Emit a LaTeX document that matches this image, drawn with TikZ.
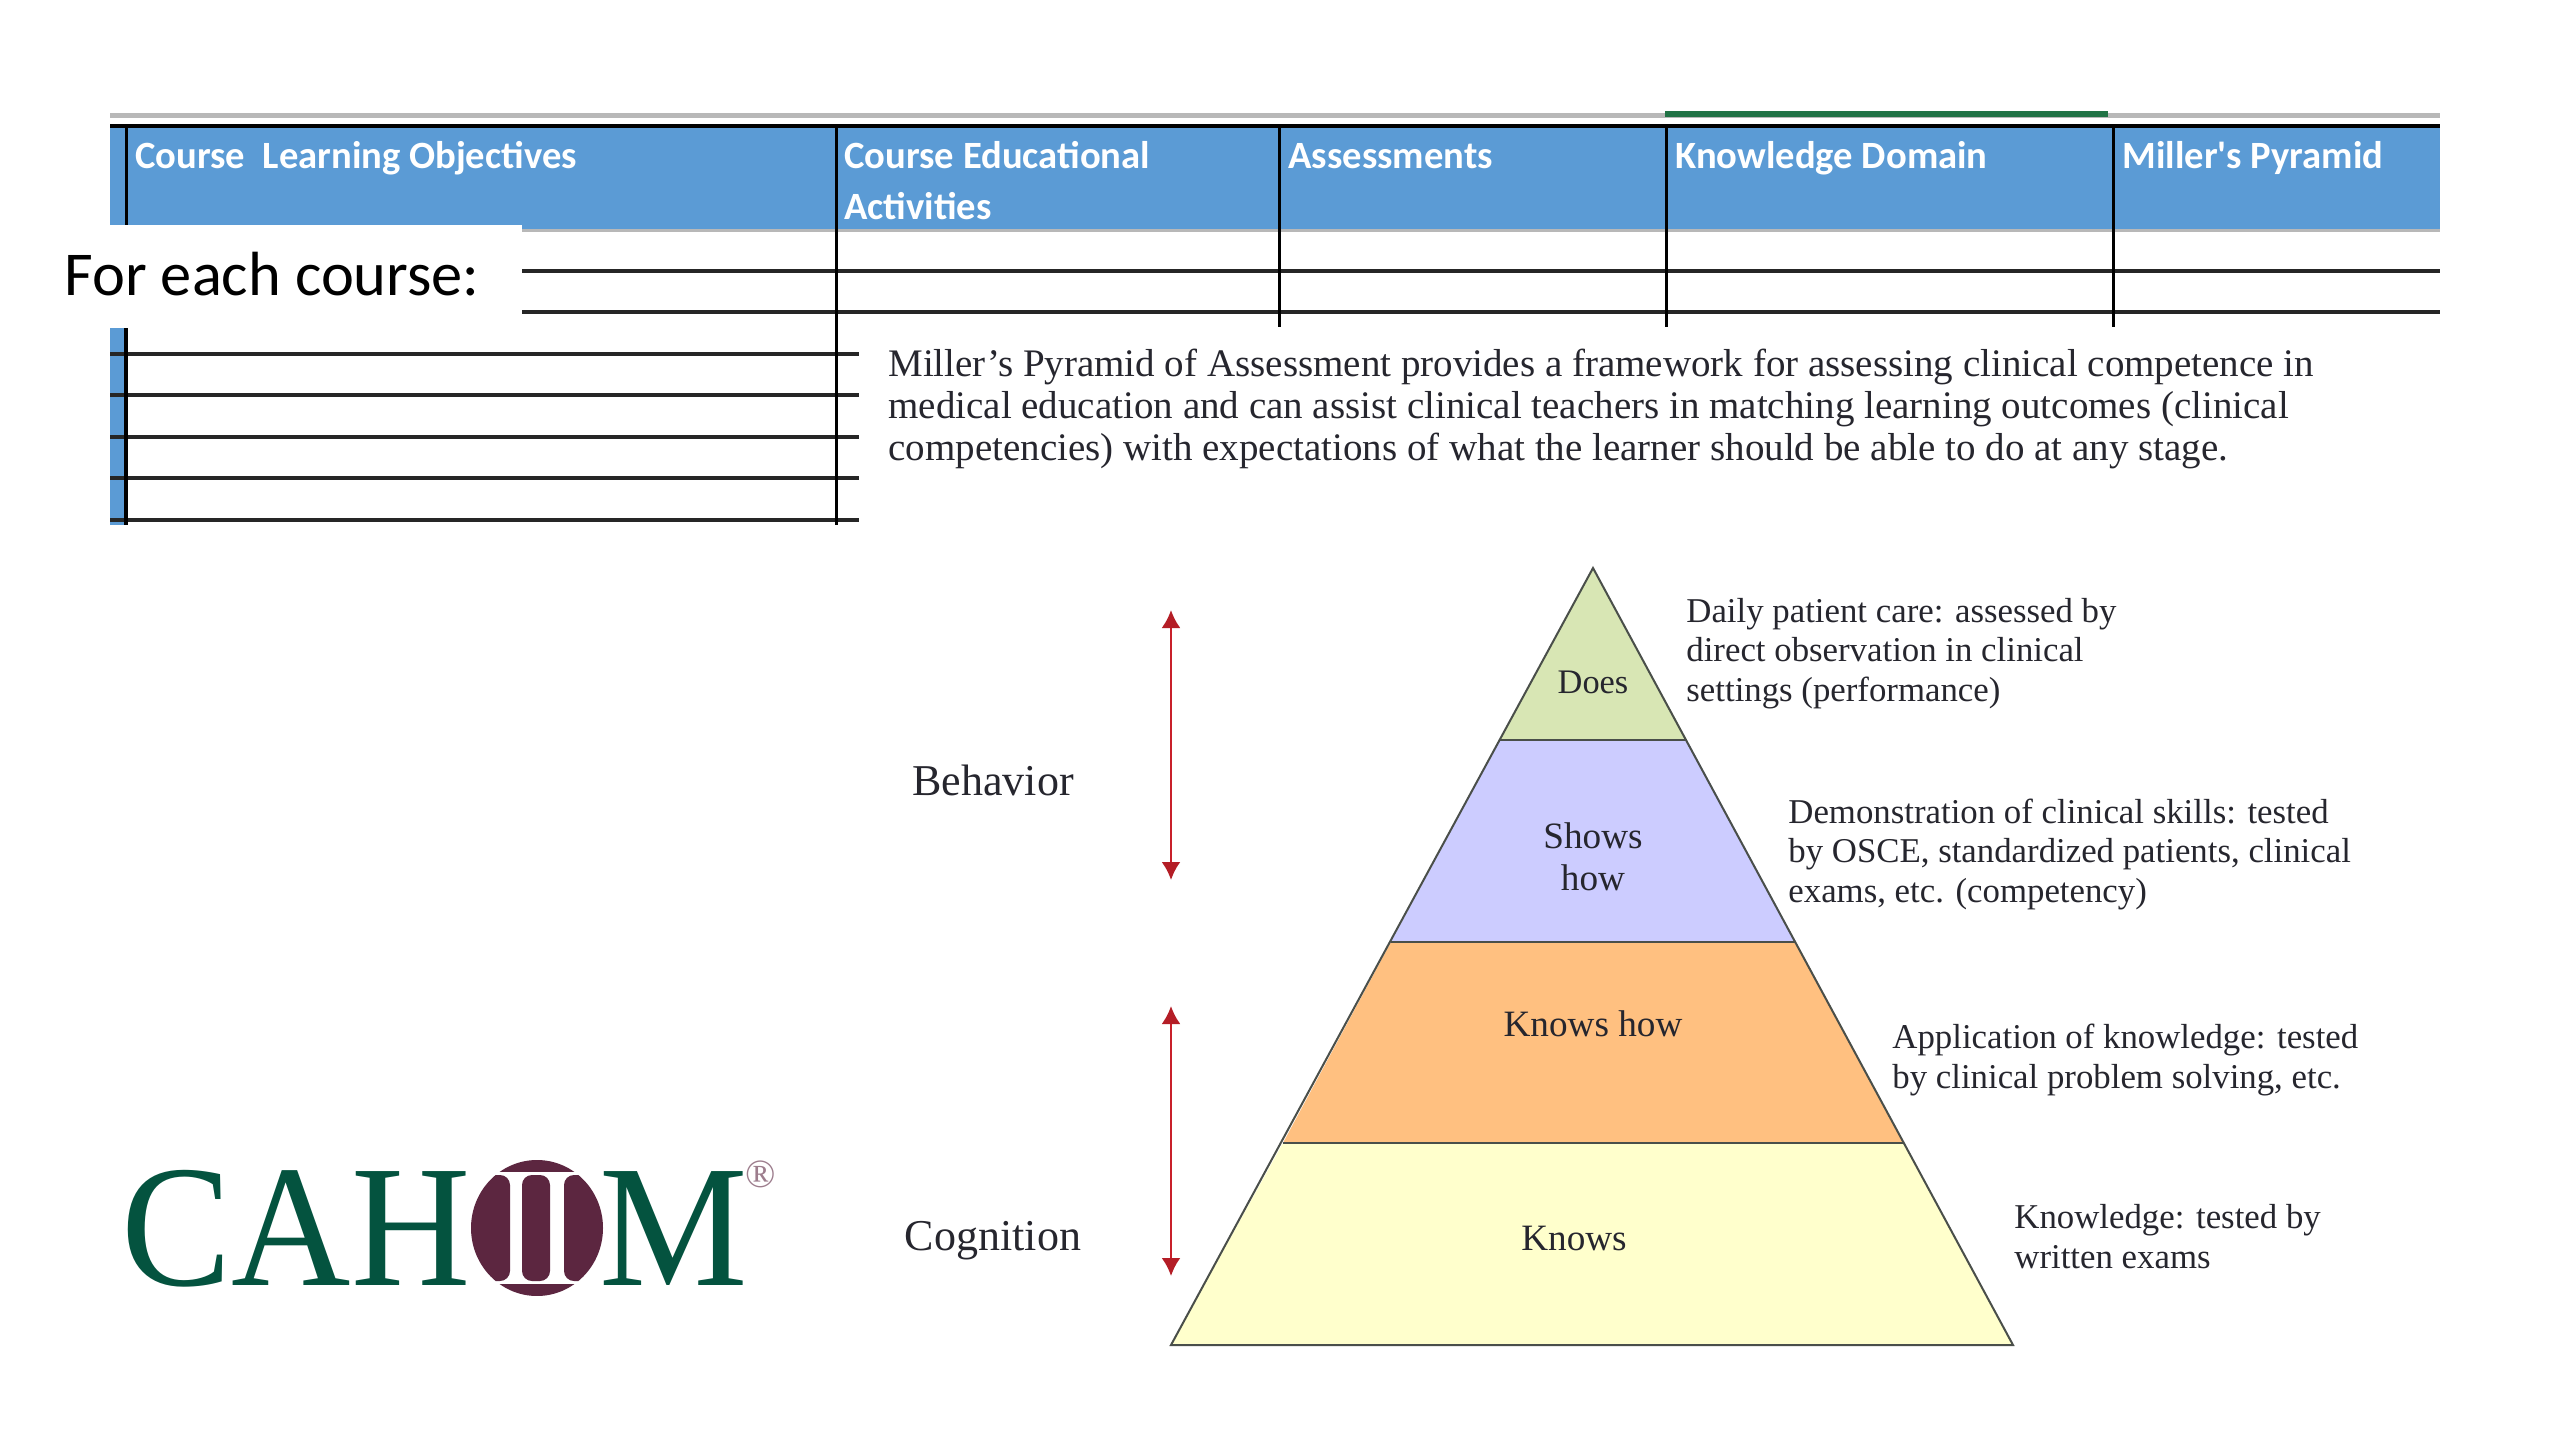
\documentclass[tikz,border=0pt]{standalone}
\usepackage{fontspec}
\setmainfont{Liberation Serif}
\newfontfamily\calfont{Carlito}
\usetikzlibrary{arrows.meta}
\definecolor{hdrblue}{HTML}{5B9BD5}
\definecolor{logogreen}{HTML}{04533F}
\definecolor{logoplum}{HTML}{5C2640}
\definecolor{rulegrey}{HTML}{B8B8B8}
\definecolor{tabgreen}{HTML}{217346}
\definecolor{arrowred}{HTML}{C8202A}
\definecolor{lyrgreen}{HTML}{D8E6B4}
\definecolor{lyrpurple}{HTML}{CCCCFF}
\definecolor{lyrorange}{HTML}{FFC080}
\definecolor{lyryellow}{HTML}{FFFFCC}
\definecolor{edgegrey}{HTML}{4A4F4A}
\definecolor{inktext}{HTML}{26262E}
\newcommand\pxfont[2]{\fontsize{#1}{#2}\selectfont}
\begin{document}
\begin{tikzpicture}[x=0.5pt,y=-0.5pt,
  gridline/.style={line width=1.8pt,black!85},
  vline/.style={line width=1.5pt,black},
  hdrtext/.style={anchor=base west,inner sep=0pt,text=white,font=\calfont\bfseries\pxfont{19.3}{25.5}},
  para/.style={anchor=base west,inner sep=0pt,align=left,text=inktext,font=\pxfont{19.5}{20.9}},
  note/.style={anchor=base west,inner sep=0pt,align=left,text=inktext,font=\pxfont{17.4}{19.7}},
  lyrlabel/.style={inner sep=0pt,align=center,text=inktext,font=\pxfont{18.6}{21}},
  sidelabel/.style={inner sep=0pt,text=inktext,font=\pxfont{22}{24}},
  layer/.style={draw=edgegrey,line width=1pt,line join=miter},
  redarrow/.style={draw=arrowred,line width=1.3pt,{Latex[length=9pt,width=9.5pt,color=arrowred!90!black]}-{Latex[length=9pt,width=9.5pt,color=arrowred!90!black]}},
  logotext/.style={anchor=base west,inner sep=0pt,text=logogreen,font=\pxfont{87}{90}}
]
\useasboundingbox (0,0) rectangle (2560,1440);
\fill[white] (0,0) rectangle (2560,1440);

% tab strip above the table
\fill[rulegrey] (110,113) rectangle (2440,118);
\fill[tabgreen] (1665,111) rectangle (2108,117);

% header band
\fill[hdrblue] (110,126) rectangle (2440,230);
\fill[rulegrey] (110,229) rectangle (2440,232);
\fill[hdrblue] (110,328) rectangle (126,525);
\draw[line width=2pt,black] (110,126) -- (2440,126);

% white patch behind the caption
\fill[white] (0,225) rectangle (522,328);

% grid
\foreach \yy in {271,312} \draw[gridline] (522,\yy) -- (2440,\yy);
\foreach \yy in {354,395,437,478,520} \draw[gridline] (110,\yy) -- (859,\yy);
\draw[vline] (126,126) -- (126,225);
\draw[line width=1.6pt,black] (126,328) -- (126,525);
\draw[vline] (836,126) -- (836,525);
\foreach \xx in {1279,1666,2113} \draw[vline] (\xx,126) -- (\xx,327);

% header text
\node[hdrtext] (h1) at (135,168) {Course\ \ Learning Objectives};
\node[hdrtext] (h2a) at (844,168) {Course Educational};
\node[hdrtext] (h2b) at (844,219) {Activities};
\node[hdrtext] (h3) at (1288,168) {Assessments};
\node[hdrtext] (h4) at (1675,168) {Knowledge Domain};
\node[hdrtext] (h5) at (2122,168) {Miller's Pyramid};

\node[anchor=base west,inner sep=0pt,text=black,font=\calfont\pxfont{31.2}{34}] (cap) at (64,295) {For each course:};

\node[para] (intro) at (888,460) {Miller's Pyramid of Assessment provides a framework for assessing clinical competence in\\medical education and can assist clinical teachers in matching learning outcomes (clinical\\competencies) with expectations of what the learner should be able to do at any stage.};

% pyramid
\fill[lyrgreen] (1593,568) -- (1687,740) -- (1500,740) -- cycle;
\fill[lyrpurple] (1500,740) -- (1687,740) -- (1796,942) -- (1391,942) -- cycle;
\fill[lyrorange] (1391,942) -- (1796,942) -- (1904,1143) -- (1283,1143) -- cycle;
\fill[lyryellow] (1283,1143) -- (1904,1143) -- (2013,1345) -- (1171,1345) -- cycle;
\draw[layer] (1593,568) -- (2013,1345) -- (1171,1345) -- cycle;
\draw[layer] (1500,740) -- (1687,740);
\draw[layer] (1391,942) -- (1796,942);
\draw[layer] (1283,1143) -- (1904,1143);

\node[lyrlabel,font=\pxfont{17.2}{21}] (does) at (1593,682) {Does};
\node[lyrlabel] (shows) at (1593,857) {Shows\\how};
\node[lyrlabel] (knowshow) at (1593,1024) {Knows how};
\node[lyrlabel] (knows) at (1574,1238) {Knows};

\node[note] (n1) at (1686,701) {Daily patient care: assessed by\\direct observation in clinical\\settings (performance)};
\node[note] (n2) at (1788,902) {Demonstration of clinical skills: tested\\by OSCE, standardized patients, clinical\\exams, etc. (competency)};
\node[note] (n3) at (1892,1088) {Application of knowledge: tested\\by clinical problem solving, etc.};
\node[note] (n4) at (2014,1268) {Knowledge: tested by\\written exams};

\node[sidelabel] (behavior) at (993,780) {Behavior};
\node[sidelabel] (cognition) at (993,1241) {Cognition};

\coordinate (b1) at (1171,610);
\coordinate (b2) at (1171,880);
\coordinate (c1) at (1171,1006);
\coordinate (c2) at (1171,1276);
\draw[redarrow] (b1) -- (b2);
\draw[redarrow] (c1) -- (c2);

% logo
\node[logotext] (cah) at (121,1285) {\scalebox{0.95}[1]{CAH}};
\begin{scope}
  \clip (537,1228) ellipse [x radius=66,y radius=68];
  \fill[logoplum] (470,1160) rectangle (604,1172);
  \fill[logoplum] (470,1284) rectangle (604,1296);
  \fill[logoplum,rounded corners=5pt] (460,1175) rectangle (510,1281);
  \fill[logoplum,rounded corners=5pt] (522,1175) rectangle (550,1281);
  \fill[logoplum,rounded corners=5pt] (564,1175) rectangle (614,1281);
\end{scope}
\node[logotext] (m) at (599,1285) {\scalebox{0.96}[1]{M}};
\node[inner sep=0pt,text=logoplum!60,font=\pxfont{20}{20}] (reg) at (761,1174) {®};
\end{tikzpicture}
\end{document}
